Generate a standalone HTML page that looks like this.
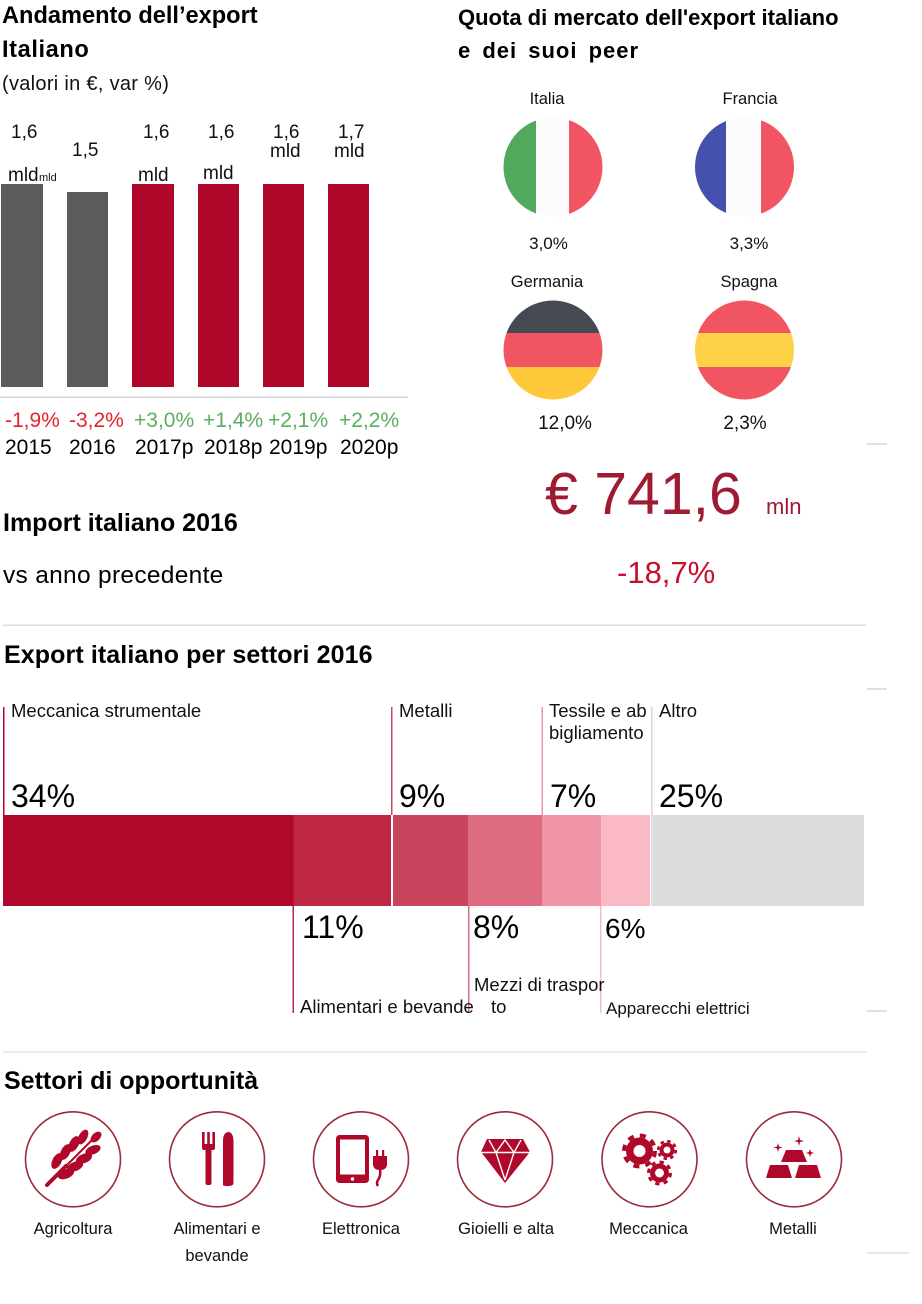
<!DOCTYPE html>
<html><head><meta charset="utf-8">
<style>
html,body{margin:0;padding:0;background:#fff;}
#c{position:relative;width:922px;height:1304px;overflow:hidden;background:#fff;font-family:"Liberation Sans",Arial,sans-serif;color:#111;}
.t{position:absolute;line-height:1;white-space:nowrap;}
.b{font-weight:bold;color:#000;}
.cc{text-align:center;width:160px;}
svg{position:absolute;left:0;top:0;}
.r{color:#E3242B;}
.g{color:#5BAE5F;}
</style></head><body><div id="c">
<svg width="922" height="1304" viewBox="0 0 922 1304">
<defs>
<clipPath id="f1"><circle cx="553" cy="167" r="49.5"/></clipPath>
<clipPath id="f2"><circle cx="744.5" cy="167" r="49.5"/></clipPath>
<clipPath id="f3"><circle cx="553" cy="350" r="49.5"/></clipPath>
<clipPath id="f4"><circle cx="744.5" cy="350" r="49.5"/></clipPath>
</defs>
<!-- bar chart -->
<rect x="1" y="184" width="42" height="203" fill="#5B5B5B"/>
<rect x="67" y="192" width="41" height="195" fill="#5B5B5B"/>
<rect x="132" y="184" width="42" height="203" fill="#AE0729"/>
<rect x="198" y="184" width="41" height="203" fill="#AE0729"/>
<rect x="263" y="184" width="41" height="203" fill="#AE0729"/>
<rect x="328" y="184" width="41" height="203" fill="#AE0729"/>
<rect x="0" y="396.5" width="408" height="1.5" fill="#d0d0d0"/>
<!-- flags -->
<g clip-path="url(#f1)">
<rect x="503" y="117" width="33" height="100" fill="#52A85C"/>
<rect x="536" y="117" width="33" height="100" fill="#FBFBFD"/>
<rect x="569" y="117" width="35" height="100" fill="#F25562"/>
</g>
<g clip-path="url(#f2)">
<rect x="694" y="117" width="32" height="100" fill="#4350AC"/>
<rect x="726" y="117" width="35" height="100" fill="#FBFBFD"/>
<rect x="761" y="117" width="35" height="100" fill="#F25562"/>
</g>
<g clip-path="url(#f3)">
<rect x="503" y="300" width="101" height="33" fill="#454952"/>
<rect x="503" y="333" width="101" height="34" fill="#F25562"/>
<rect x="503" y="367" width="101" height="34" fill="#FFC83A"/>
</g>
<g clip-path="url(#f4)">
<rect x="694" y="300" width="102" height="33" fill="#F25562"/>
<rect x="694" y="333" width="102" height="34" fill="#FFD149"/>
<rect x="694" y="367" width="102" height="34" fill="#F25562"/>
</g>
<!-- right ticks -->
<rect x="867" y="443" width="20" height="2" fill="#e0e0e0"/>
<rect x="867" y="688" width="20" height="2" fill="#e0e0e0"/>
<rect x="867" y="1010" width="20" height="2" fill="#e0e0e0"/>
<rect x="867" y="1252" width="42" height="2" fill="#e6e6e6"/>
<!-- dividers -->
<rect x="3" y="624.5" width="863" height="1.5" fill="#dcdcdc"/>
<rect x="3" y="1051" width="864" height="2" fill="#ebebeb"/>
<!-- sector bar -->
<rect x="3" y="815" width="290.5" height="91" fill="#B0082A"/>
<rect x="293.5" y="815" width="97.5" height="91" fill="#BE2744"/>
<rect x="393" y="815" width="75" height="91" fill="#C8455E"/>
<rect x="468" y="815" width="74" height="91" fill="#DE6C80"/>
<rect x="542" y="815" width="59" height="91" fill="#EF94A6"/>
<rect x="601" y="815" width="49" height="91" fill="#FBB8C5"/>
<rect x="653" y="815" width="211" height="91" fill="#DCDCDC"/>
<!-- leader lines -->
<rect x="3" y="707" width="1.5" height="108" fill="#B0082A"/>
<rect x="391" y="707" width="1.5" height="108" fill="#C8455E"/>
<rect x="541.5" y="707" width="1.5" height="108" fill="#EF94A6"/>
<rect x="651" y="707" width="1.5" height="199" fill="#d6d6d6"/>
<rect x="292.5" y="906" width="1.5" height="107" fill="#BE2744"/>
<rect x="468" y="906" width="1.5" height="107" fill="#DE6C80"/>
<rect x="600" y="906" width="1.5" height="107" fill="#FBB8C5"/>
<!-- icon circles -->
<g fill="none" stroke="#9C2A3A" stroke-width="1.6">
<circle cx="73" cy="1159.3" r="47.5"/>
<circle cx="217" cy="1159.3" r="47.5"/>
<circle cx="361" cy="1159.3" r="47.5"/>
<circle cx="505" cy="1159.3" r="47.5"/>
<circle cx="649.5" cy="1159.3" r="47.5"/>
<circle cx="794" cy="1159.3" r="47.5"/>
</g>
<g fill="#B0082A">
<!-- wheat -->
<line x1="47" y1="1185" x2="66" y2="1166" stroke="#B0082A" stroke-width="4" stroke-linecap="round"/>
<line x1="62" y1="1170" x2="92" y2="1140" stroke="#B0082A" stroke-width="2"/>
<ellipse cx="57" cy="1161" rx="8.5" ry="4.6" transform="rotate(-62 57 1161)"/>
<ellipse cx="65.5" cy="1152" rx="8.5" ry="4.6" transform="rotate(-62 65.5 1152)"/>
<ellipse cx="74" cy="1144" rx="8.5" ry="4.6" transform="rotate(-62 74 1144)"/>
<ellipse cx="83" cy="1137" rx="8" ry="4.3" transform="rotate(-62 83 1137)"/>
<ellipse cx="66" cy="1174" rx="8.5" ry="4.6" transform="rotate(-22 66 1174)"/>
<ellipse cx="75" cy="1166.5" rx="8.5" ry="4.6" transform="rotate(-22 75 1166.5)"/>
<ellipse cx="84" cy="1158.5" rx="8.5" ry="4.6" transform="rotate(-22 84 1158.5)"/>
<ellipse cx="93" cy="1150" rx="8" ry="4.3" transform="rotate(-22 93 1150)"/>
<ellipse cx="96" cy="1137" rx="6.5" ry="4" transform="rotate(-45 96 1137)"/>
<!-- fork & knife -->
<rect x="202" y="1132" width="2.6" height="16"/>
<rect x="207.2" y="1132" width="2.6" height="16"/>
<rect x="212.4" y="1132" width="2.6" height="16"/>
<rect x="202" y="1144" width="13" height="6" rx="2"/>
<rect x="205.5" y="1148" width="6" height="37" rx="2"/>
<path d="M223,1185 L223,1141 Q223,1132 229,1132 Q233.5,1133 233.5,1142 L233.5,1183 Q233.5,1186 228,1186 Q223,1186 223,1185 Z"/>
<!-- tablet + plug -->
<rect x="336" y="1135" width="33" height="48" rx="3.5"/>
<rect x="340" y="1139.5" width="25" height="35" fill="#fff"/>
<circle cx="352.5" cy="1179" r="1.7" fill="#fff"/>
<rect x="376" y="1150" width="2.2" height="7"/>
<rect x="382" y="1150" width="2.2" height="7"/>
<path d="M373,1156 L387,1156 L387,1164 Q387,1170 380,1170 Q373,1170 373,1164 Z"/>
<path d="M380,1169 Q381,1176 378,1180 Q376,1183 378,1186" fill="none" stroke="#B0082A" stroke-width="2.5"/>
<!-- diamond -->
<polygon points="487,1139 523,1139 530,1152 505,1183 481,1152"/>
<g stroke="#fff" stroke-width="1.4" fill="none">
<line x1="481" y1="1152.5" x2="530" y2="1152.5"/>
<polyline points="489,1140 496,1152.5 505,1140 514,1152.5 521,1140"/>
<line x1="496" y1="1152.5" x2="505" y2="1180"/>
<line x1="514" y1="1152.5" x2="505" y2="1180"/>
</g>
<!-- gears -->
<circle cx="639.5" cy="1151" r="13.5"/>
<circle cx="639.5" cy="1151" r="15.5" fill="none" stroke="#B0082A" stroke-width="4" stroke-dasharray="6.1 6.1"/>
<circle cx="639.5" cy="1151" r="6" fill="#fff"/>
<circle cx="667" cy="1150" r="7.5"/>
<circle cx="667" cy="1150" r="8.8" fill="none" stroke="#B0082A" stroke-width="2.6" stroke-dasharray="3.45 3.45"/>
<circle cx="667" cy="1150" r="3.5" fill="#fff"/>
<circle cx="659.5" cy="1173" r="9.5"/>
<circle cx="659.5" cy="1173" r="11" fill="none" stroke="#B0082A" stroke-width="3" stroke-dasharray="4.3 4.3"/>
<circle cx="659.5" cy="1173" r="4.5" fill="#fff"/>
<!-- gold bars -->
<polygon points="786,1150 802,1150 807,1162 781,1162"/>
<polygon points="770,1165 788,1165 792,1178 766,1178"/>
<polygon points="799,1165 817,1165 821,1178 795,1178"/>
<path d="M778,1143 L779,1146.5 L782.5,1147.5 L779,1148.5 L778,1152 L777,1148.5 L773.5,1147.5 L777,1146.5 Z"/>
<path d="M799,1136 L800,1140 L804,1141 L800,1142 L799,1146 L798,1142 L794,1141 L798,1140 Z"/>
<path d="M810,1149 L811,1152 L814,1153 L811,1154 L810,1157 L809,1154 L806,1153 L809,1152 Z"/>
</g>
</svg>

<!-- left title -->
<div class="t b" style="left:2px;top:5px;font-size:23.6px;">Andamento dell’export</div>
<div class="t b" style="left:2px;top:39px;font-size:23.6px;letter-spacing:0.6px;">Italiano</div>
<div class="t" style="left:2px;top:74px;font-size:20px;letter-spacing:0.3px;">(valori in €, var %)</div>

<!-- bar values -->
<div class="t" style="left:11px;top:123px;font-size:19px;">1,6</div>
<div class="t" style="left:8px;top:165.6px;font-size:19px;">mld</div>
<div class="t" style="left:39px;top:173.4px;font-size:11px;">mld</div>
<div class="t" style="left:72px;top:141px;font-size:19px;">1,5</div>
<div class="t" style="left:143px;top:123px;font-size:19px;">1,6</div>
<div class="t" style="left:138px;top:165.6px;font-size:19px;">mld</div>
<div class="t" style="left:208px;top:123px;font-size:19px;">1,6</div>
<div class="t" style="left:203px;top:164px;font-size:19px;">mld</div>
<div class="t" style="left:273px;top:123px;font-size:19px;">1,6</div>
<div class="t" style="left:270px;top:142px;font-size:19px;">mld</div>
<div class="t" style="left:338px;top:123px;font-size:19px;">1,7</div>
<div class="t" style="left:334px;top:142px;font-size:19px;">mld</div>

<!-- var % -->
<div class="t r" style="left:5px;top:410px;font-size:21px;">-1,9%</div>
<div class="t r" style="left:69px;top:410px;font-size:21px;">-3,2%</div>
<div class="t g" style="left:134px;top:410px;font-size:21px;">+3,0%</div>
<div class="t g" style="left:203px;top:410px;font-size:21px;">+1,4%</div>
<div class="t g" style="left:268px;top:410px;font-size:21px;">+2,1%</div>
<div class="t g" style="left:339px;top:410px;font-size:21px;">+2,2%</div>
<div class="t" style="left:5px;top:437px;font-size:21px;color:#000;">2015</div>
<div class="t" style="left:69px;top:437px;font-size:21px;color:#000;">2016</div>
<div class="t" style="left:135px;top:437px;font-size:21px;color:#000;">2017p</div>
<div class="t" style="left:204px;top:437px;font-size:21px;color:#000;">2018p</div>
<div class="t" style="left:269px;top:437px;font-size:21px;color:#000;">2019p</div>
<div class="t" style="left:340px;top:437px;font-size:21px;color:#000;">2020p</div>

<!-- right title -->
<div class="t b" style="left:458px;top:7.4px;font-size:22px;">Quota di mercato dell'export italiano</div>
<div class="t b" style="left:458px;top:39.7px;font-size:22px;letter-spacing:1px;word-spacing:4px;">e dei suoi peer</div>

<div class="t cc" style="left:467px;top:91px;font-size:16.5px;">Italia</div>
<div class="t cc" style="left:670px;top:91px;font-size:16.5px;">Francia</div>
<div class="t cc" style="left:468.5px;top:235px;font-size:17px;">3,0%</div>
<div class="t cc" style="left:669px;top:235px;font-size:17px;">3,3%</div>
<div class="t cc" style="left:467px;top:274px;font-size:16.5px;">Germania</div>
<div class="t cc" style="left:669px;top:274px;font-size:16.5px;">Spagna</div>
<div class="t cc" style="left:485px;top:414px;font-size:19px;">12,0%</div>
<div class="t cc" style="left:665px;top:414px;font-size:19px;">2,3%</div>

<!-- import -->
<div class="t" style="left:545px;top:465px;font-size:59px;color:#9E1B32;">€ 741,6</div>
<div class="t" style="left:766px;top:496.4px;font-size:22px;color:#9E1B32;">mln</div>
<div class="t b" style="left:3px;top:510.8px;font-size:25px;">Import italiano 2016</div>
<div class="t" style="left:3px;top:564.3px;font-size:24.5px;letter-spacing:0.3px;color:#000;">vs anno precedente</div>
<div class="t" style="left:617px;top:556.8px;font-size:31px;color:#C8102E;">-18,7%</div>

<!-- export per settori -->
<div class="t b" style="left:4px;top:642.8px;font-size:25px;letter-spacing:0.1px;">Export italiano per settori 2016</div>

<div class="t" style="left:11px;top:701.6px;font-size:18.5px;">Meccanica strumentale</div>
<div class="t" style="left:399px;top:701.6px;font-size:18.5px;">Metalli</div>
<div class="t" style="left:549px;top:701.6px;font-size:18.5px;">Tessile e ab</div>
<div class="t" style="left:549px;top:724px;font-size:18.5px;">bigliamento</div>
<div class="t" style="left:659px;top:701.6px;font-size:18.5px;">Altro</div>

<div class="t" style="left:11px;top:779.6px;font-size:32px;color:#000;">34%</div>
<div class="t" style="left:399px;top:779.6px;font-size:32px;color:#000;">9%</div>
<div class="t" style="left:550px;top:779.6px;font-size:32px;color:#000;">7%</div>
<div class="t" style="left:659px;top:779.6px;font-size:32px;color:#000;">25%</div>

<div class="t" style="left:302px;top:911.2px;font-size:32px;color:#000;">11%</div>
<div class="t" style="left:473px;top:911.2px;font-size:32px;color:#000;">8%</div>
<div class="t" style="left:605px;top:914.6px;font-size:28px;color:#000;">6%</div>

<div class="t" style="left:474px;top:976px;font-size:18.5px;">Mezzi di traspor</div>
<div class="t" style="left:300px;top:998.3px;font-size:18.5px;">Alimentari e bevande</div>
<div class="t" style="left:491px;top:998.3px;font-size:18.5px;">to</div>
<div class="t" style="left:606px;top:999.6px;font-size:17px;">Apparecchi elettrici</div>

<!-- settori di opportunità -->
<div class="t b" style="left:4px;top:1068.8px;font-size:25px;">Settori di opportunità</div>

<div class="t cc" style="left:-7px;top:1221px;font-size:16.5px;">Agricoltura</div>
<div class="t cc" style="left:137px;top:1221px;font-size:16.5px;">Alimentari e</div>
<div class="t cc" style="left:137px;top:1247.7px;font-size:16.5px;">bevande</div>
<div class="t cc" style="left:281px;top:1221px;font-size:16.5px;">Elettronica</div>
<div class="t cc" style="left:426px;top:1221px;font-size:16.8px;">Gioielli e alta</div>
<div class="t cc" style="left:568.5px;top:1221px;font-size:16.5px;">Meccanica</div>
<div class="t cc" style="left:713px;top:1221px;font-size:16.5px;">Metalli</div>
</div></body></html>
